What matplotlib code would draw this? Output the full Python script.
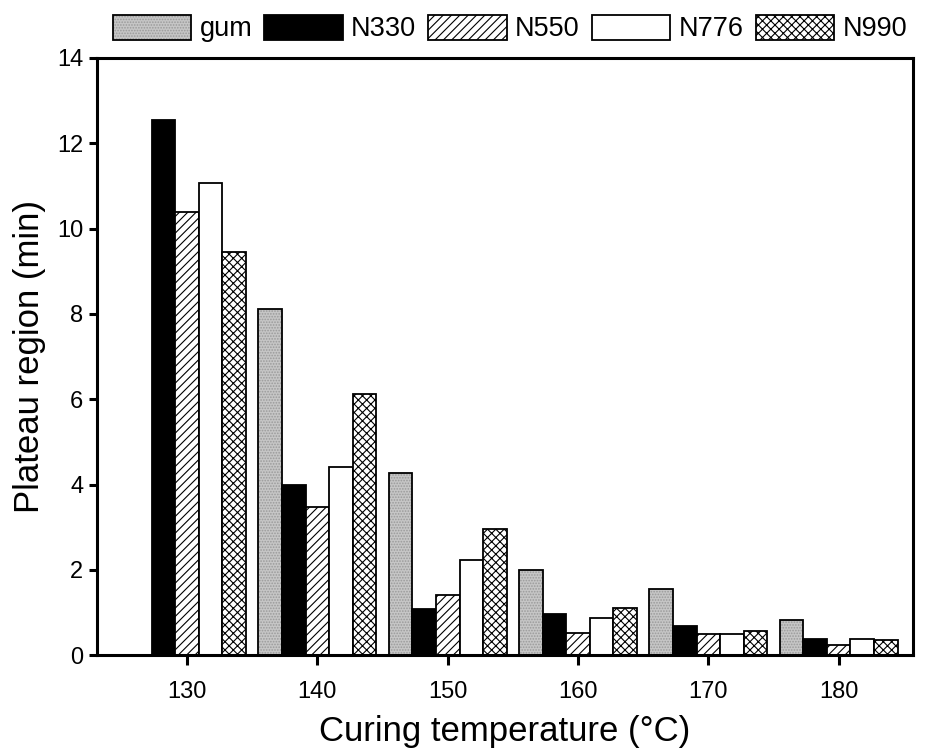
import numpy as np
import matplotlib
matplotlib.use("Agg")
import matplotlib.pyplot as plt

plt.rcParams['font.family'] = ['Liberation Sans', 'DejaVu Sans']
plt.rcParams['hatch.linewidth'] = 0.8

# data
temps = [130, 140, 150, 160, 170, 180]
series = ["gum", "N330", "N550", "N776", "N990"]
gum = [0.0, 8.12, 4.28, 2.00, 1.54, 0.82]
n330 = [12.55, 3.98, 1.08, 0.96, 0.68, 0.37]
n550 = [10.40, 3.48, 1.40, 0.52, 0.50, 0.23]
n776 = [11.08, 4.40, 2.22, 0.86, 0.49, 0.37]
n990 = [9.46, 6.12, 2.95, 1.10, 0.57, 0.36]
values = [gum, n330, n550, n776, n990]

faces = ['#c6c6c6', 'black', 'white', 'white', 'white']
hatches = ['......', None, '////', None, 'xxxx']

fig = plt.figure(figsize=(9.25, 7.53), dpi=100)
ax = fig.add_axes([0.105, 0.130, 0.882, 0.793])

w = 1.81
x = np.array(temps, dtype=float)
handles = []
for i, (name, vals) in enumerate(zip(series, values)):
    pos = x + (i - 2) * w
    if i == 0:
        # stippled grey: texture layer then black outline
        b1 = ax.bar(pos, vals, width=w, facecolor=faces[i], edgecolor='#9a9a9a',
                    linewidth=0, hatch=hatches[i])
        b2 = ax.bar(pos, vals, width=w, fill=False, edgecolor='black', linewidth=1.3)
        handles.append((b1, b2))
    else:
        b = ax.bar(pos, vals, width=w, facecolor=faces[i], edgecolor='black',
                   linewidth=1.3, hatch=hatches[i])
        handles.append(b)

ax.set_xlim(123.1, 185.7)
ax.set_ylim(0, 14)
ax.set_xticks(temps)
ax.set_yticks(np.arange(0, 15, 2))
ax.tick_params(axis='both', direction='out', labelsize=17, width=2.2)
ax.tick_params(axis='x', length=7.5, pad=11)
ax.tick_params(axis='y', length=6, pad=4)
for s in ax.spines.values():
    s.set_linewidth(2.2)

ax.set_xlabel("Curing temperature (°C)", fontsize=25, labelpad=9)
ax.set_ylabel("Plateau region (min)", fontsize=25, labelpad=8)

fig.legend(handles=handles, labels=series, ncol=5, frameon=False,
           loc='center left', bbox_to_anchor=(0.122, 0.962), fontsize=19.5,
           handlelength=2.9, handleheight=1.03, handletextpad=0.3,
           columnspacing=0.45, borderaxespad=0, borderpad=0)

fig.savefig("out.png", dpi=100)
